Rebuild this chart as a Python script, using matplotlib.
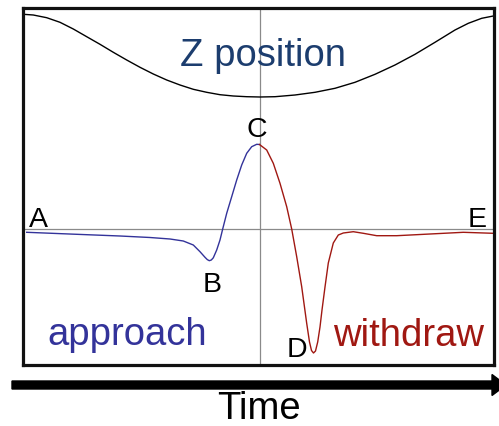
import matplotlib.pyplot as plt
import numpy as np

plt.rcParams['font.family'] = ['Liberation Sans', 'DejaVu Sans']

# tiempo relativo al punto C, deflexion relativa a la linea base
t_z = [-236.2, -226.2, -212.8, -199.5, -186.2, -172.8, -159.5, -146.2, -132.8,
       -119.5, -106.2, -92.8, -79.5, -66.2, -52.8, -39.5, -26.2, -12.8, 0.5,
       15.5, 35.5, 55.5, 75.5, 95.5, 115.5, 135.5, 155.5, 175.5, 195.5,
       208.8, 222.2, 233.8]
z_pos = [214.7, 214, 211.3, 206.7, 200, 192.3, 184.7, 176.7, 169,
         161.7, 155, 149, 144, 139.7, 136.7, 134.3, 133, 132.3, 132,
         132.3, 134, 136.7, 140.7, 146.7, 154.7, 164, 174.7, 186.7, 199,
         205.7, 210.7, 213]

t_approach = [-232.8, -182.8, -139.5, -109.5, -89.5, -76.2, -66.2, -59.5, -54.5,
              -52.2, -50.2, -48.2, -46.2, -42.8, -39.5, -36.8, -32.8, -27.8,
              -22.8, -17.8, -12.8, -7.8, -2.8, 0]
def_approach = [-3.3, -5.3, -7, -8.5, -10, -12, -16, -22.7, -28.3,
                -30.6, -31.7, -31, -28.8, -21, -11, 0, 15.7, 32.3,
                49, 64, 75.7, 82.3, 84.7, 84.5]

t_withdraw = [0, 7.2, 13.8, 20.5, 27.2, 32.2, 37.2, 42.2, 47.2, 50, 52, 54, 56,
              58.2, 60.5, 62.5, 65.5, 68.8, 73.8, 78.8, 83.8, 93.8, 103.8, 117.2,
              137.2, 170.5, 203.8, 233.8]
def_withdraw = [84.5, 79, 65.7, 45.7, 22.3, 0, -27.7, -57.7, -94.3, -113, -121.5, -124, -122,
                -113, -98, -81, -58, -34, -14, -6, -4, -2.7, -4.3, -6.7,
                -6.7, -5, -3.3, -4.3]

# letras de los puntos: (texto, x px, y px de la linea base)
etiquetas = [("A", 38, 227), ("B", 211.7, 291.7), ("C", 257, 137),
             ("D", 296.5, 357), ("E", 477.5, 226.7)]

azul = '#33339a'
rojo = '#a01812'

W, H = 499, 426
fig = plt.figure(figsize=(W / 100, H / 100), dpi=100)

ax = fig.add_axes([22.5 / W, (H - 364.5) / H, (494 - 22.5) / W, (364.5 - 7.5) / H])
ax.axhline(0, color='#8a8a8a', lw=0.9)
ax.axvline(0, color='#8a8a8a', lw=0.9)
ax.plot(t_z, z_pos, color='black', lw=1.0)
ax.plot(t_approach, def_approach, color=azul, lw=1.0)
ax.plot(t_withdraw, def_withdraw, color=rojo, lw=1.0)
ax.set_xlim(-237, 234.5)
ax.set_ylim(-135.5, 221.5)
ax.set_xticks([])
ax.set_yticks([])
for s in ax.spines.values():
    s.set_linewidth(2.3)
    s.set_color('#111111')

# capa en pixeles para textos y flecha
ov = fig.add_axes([0, 0, 1, 1])
ov.set_xlim(0, W)
ov.set_ylim(H, 0)
ov.axis('off')
ov.patch.set_alpha(0)

for txt, x, y in etiquetas:
    ov.text(x, y, txt, fontsize=20.5, ha='center', va='baseline', color='black')

ov.text(263, 66.5, "Z position", fontsize=27.5, ha='center', va='baseline', color='#1c3d6e')
ov.text(127.5, 345, "approach", fontsize=27.5, ha='center', va='baseline', color=azul)
ov.text(409, 345.5, "withdraw", fontsize=27.5, ha='center', va='baseline', color=rojo)
ov.text(258.5, 419, "Time", fontsize=27.5, ha='center', va='baseline', color='black')

ov.arrow(12, 385, 494, 0, width=8, head_width=21, head_length=14,
         length_includes_head=True, color='black')

plt.savefig('out.png', dpi=100)
